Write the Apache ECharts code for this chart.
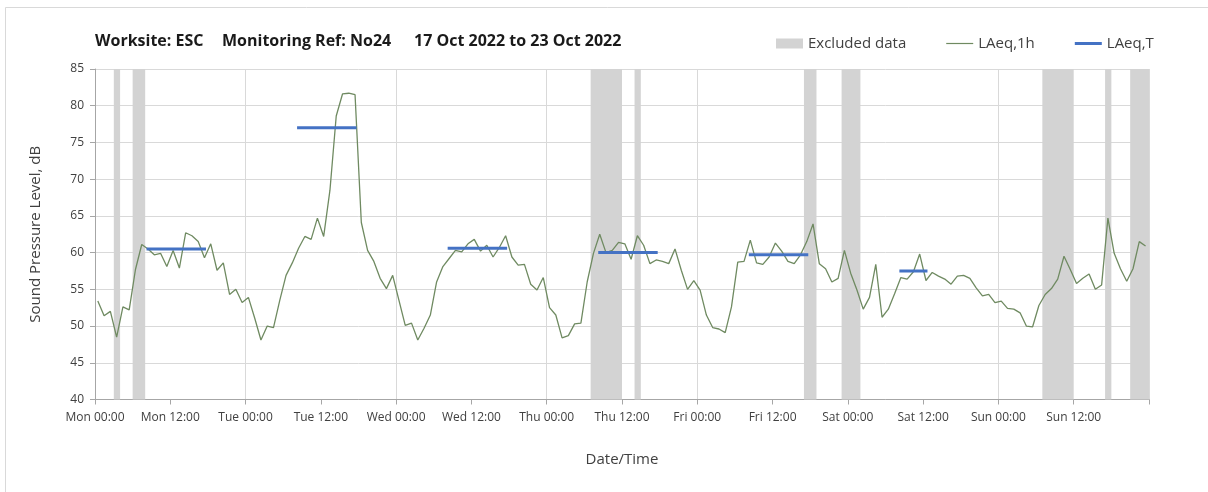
<!DOCTYPE html>
<html>
<head>
<meta charset="utf-8">
<script src="https://cdn.jsdelivr.net/npm/echarts@6/dist/echarts.min.js"></script>
<style>
html, body { margin: 0; padding: 0; background: #fff; }
#chart { width: 1208px; height: 492px; }
</style>
</head>
<body>
<div id="chart"></div>
<script>
// 每小时 LAeq,1h 数值 (Mon 00:00 起, 共168小时)
var lAeq1h = [
    53.4, 51.4, 52.0, 48.5, 52.6, 52.2, 57.7, 61.1, 60.5, 59.7, 59.9, 58.1,
    60.3, 57.9, 62.7, 62.3, 61.5, 59.3, 61.2, 57.6, 58.6, 54.3, 55.0, 53.2,
    53.9, 51.1, 48.1, 50.0, 49.8, 53.5, 56.9, 58.6, 60.6, 62.2, 61.8, 64.7,
    62.2, 68.5, 78.6, 81.6, 81.7, 81.5, 64.1, 60.3, 58.8, 56.5, 55.1, 56.9,
    53.5, 50.1, 50.4, 48.1, 49.7, 51.5, 56.0, 58.1, 59.2, 60.3, 60.1, 61.2,
    61.8, 60.2, 61.0, 59.4, 60.7, 62.3, 59.4, 58.3, 58.4, 55.7, 54.9, 56.6,
    52.5, 51.5, 48.4, 48.7, 50.3, 50.4, 56.0, 59.9, 62.5, 60.0, 60.3, 61.4,
    61.2, 59.1, 62.3, 61.0, 58.5, 59.0, 58.8, 58.5, 60.5, 57.6, 55.0, 56.2,
    54.9, 51.5, 49.8, 49.6, 49.1, 52.6, 58.7, 58.8, 61.7, 58.6, 58.4, 59.4,
    61.3, 60.2, 58.8, 58.5, 59.7, 61.5, 63.9, 58.5, 57.8, 56.0, 56.5, 60.3,
    57.2, 54.9, 52.3, 53.9, 58.4, 51.2, 52.3, 54.4, 56.6, 56.4, 57.4, 59.8,
    56.2, 57.3, 56.8, 56.4, 55.7, 56.8, 56.9, 56.5, 55.2, 54.1, 54.3, 53.2,
    53.4, 52.4, 52.3, 51.8, 50.0, 49.9, 52.8, 54.3, 55.1, 56.4, 59.5, 57.7,
    55.8, 56.5, 57.1, 55.0, 55.6, 64.7, 59.9, 57.8, 56.1, 57.8, 61.5, 60.9
];

// LAeq,T 时段 (起止小时, 数值)
var periodStart = [8, 32, 56, 80, 104, 128];
var periodEnd   = [17, 41, 65, 89, 113, 132];
var periodValue = [60.5, 77.0, 60.6, 60.0, 59.7, 57.5];

// Excluded data 时段 (小时)
var excludeStart = [3, 6, 79, 86, 113, 119, 151, 161, 165];
var excludeEnd   = [4, 8, 84, 87, 115, 122, 156, 162, 168];

// 坐标轴标签
var dayNames = ['Mon', 'Tue', 'Wed', 'Thu', 'Fri', 'Sat', 'Sun'];
var yMin = 40, yMax = 85;

var textColor = '#404040';
var fontName = 'Open Sans';
var greenColor = '#6f8a61', blueColor = '#4472c4', greyColor = '#d3d3d3';

//组装数据
var lineData = [];
for (var i = 0; i < lAeq1h.length; i++) {
    lineData.push([i + 0.45, lAeq1h[i]]);
}
var excludeData = [];
for (var j = 0; j < excludeStart.length; j++) {
    excludeData.push([excludeStart[j], excludeEnd[j]]);
}

var series = [];
series.push({
    name: 'Excluded data',
    type: 'custom',
    xAxisIndex: 0,
    itemStyle: { color: greyColor },
    encode: { x: [0, 1] },
    z: 1,
    renderItem: function (params, api) {
        var p0 = api.coord([api.value(0), yMax]);
        var p1 = api.coord([api.value(1), yMin]);
        return {
            type: 'rect',
            shape: { x: p0[0], y: p0[1], width: p1[0] - p0[0], height: p1[1] - p0[1] },
            style: { fill: greyColor }
        };
    },
    data: excludeData
});
series.push({
    name: 'LAeq,1h',
    type: 'line',
    xAxisIndex: 0,
    symbol: 'none',
    z: 3,
    itemStyle: { color: greenColor },
    lineStyle: { color: greenColor, width: 1.3 },
    data: lineData
});
for (var k = 0; k < periodStart.length; k++) {
    series.push({
        name: 'LAeq,T',
        type: 'line',
        xAxisIndex: 0,
        symbol: 'none',
        z: 4,
        itemStyle: { color: blueColor },
        lineStyle: { color: blueColor, width: 3, cap: 'square' },
        data: [[periodStart[k] + 0.45, periodValue[k]], [periodEnd[k] + 0.45, periodValue[k]]]
    });
}

// 图例线条图标 (透明端点撑开 10px 高度)
var thinIcon = 'path://M0,0 M0,4.4 L27,4.4 L27,5.6 L0,5.6 Z M27,10';
var thickIcon = 'path://M0,0 M0,3.5 L27,3.5 L27,6.5 L0,6.5 Z M27,10';

var titleStyle = { fontFamily: fontName, fontWeight: 'bold', fontSize: 16, color: '#1a1a1a' };

var option = {
    animation: false,
    backgroundColor: '#fff',
    title: [
        { text: 'Worksite: ESC', left: 95, top: 33, padding: 0, textStyle: titleStyle },
        { text: 'Monitoring Ref: No24', left: 222, top: 33, padding: 0, textStyle: titleStyle },
        { text: '17 Oct 2022 to 23 Oct 2022', left: 414, top: 33, padding: 0, textStyle: titleStyle }
    ],
    legend: {
        left: 776,
        top: 36,
        padding: 0,
        itemWidth: 27,
        itemHeight: 10,
        itemGap: 40,
        textStyle: { fontFamily: fontName, fontSize: 15, color: textColor },
        data: [
            { name: 'Excluded data', icon: 'rect', itemStyle: { color: greyColor } },
            { name: 'LAeq,1h', icon: thinIcon, itemStyle: { color: greenColor } },
            { name: 'LAeq,T', icon: thickIcon, itemStyle: { color: blueColor } }
        ]
    },
    grid: { left: 95, right: 59, top: 69, bottom: 92.5, containLabel: false, outerBoundsMode: 'none' },
    xAxis: [{
        type: 'value',
        min: 0,
        max: 168,
        interval: 12,
        name: 'Date/Time',
        nameLocation: 'middle',
        nameGap: 53,
        nameTextStyle: { fontFamily: fontName, fontSize: 15, color: textColor },
        axisLine: { lineStyle: { color: '#a6a6a6' } },
        axisTick: { length: 5, lineStyle: { color: '#a6a6a6' } },
        axisLabel: {
            fontFamily: fontName, fontSize: 12, color: textColor, margin: 12,
            formatter: function (v) {
                if (v >= 168) return '';
                var d = dayNames[Math.floor(v / 24)];
                return d + ' ' + (v % 24 == 0 ? '00:00' : '12:00');
            }
        },
        splitLine: { show: false }
    }, {
        // 仅用于每日竖向网格线
        type: 'value',
        min: 0,
        max: 168,
        interval: 24,
        position: 'bottom',
        axisLine: { show: false },
        axisTick: { show: false },
        axisLabel: { show: false },
        splitLine: { show: true, lineStyle: { color: '#d9d9d9' } }
    }],
    yAxis: {
        type: 'value',
        min: yMin,
        max: yMax,
        interval: 5,
        name: 'Sound Pressure Level, dB',
        nameLocation: 'middle',
        nameGap: 52,
        nameTextStyle: { fontFamily: fontName, fontSize: 15, color: textColor },
        axisLine: { show: true, lineStyle: { color: '#a6a6a6' } },
        axisTick: { show: true, length: 5, lineStyle: { color: '#a6a6a6' } },
        axisLabel: { fontFamily: fontName, fontSize: 12, color: textColor, margin: 11 },
        splitLine: { show: true, lineStyle: { color: '#d9d9d9' } }
    },
    graphic: [{
        type: 'rect',
        silent: true,
        shape: { x: 5.5, y: 7.5, width: 1300, height: 600 },
        style: { fill: 'none', stroke: '#d9d9d9', lineWidth: 1 }
    }],
    series: series
};

//render
var chart = echarts.init(document.getElementById('chart'));
chart.setOption(option);
</script>
</body>
</html>
